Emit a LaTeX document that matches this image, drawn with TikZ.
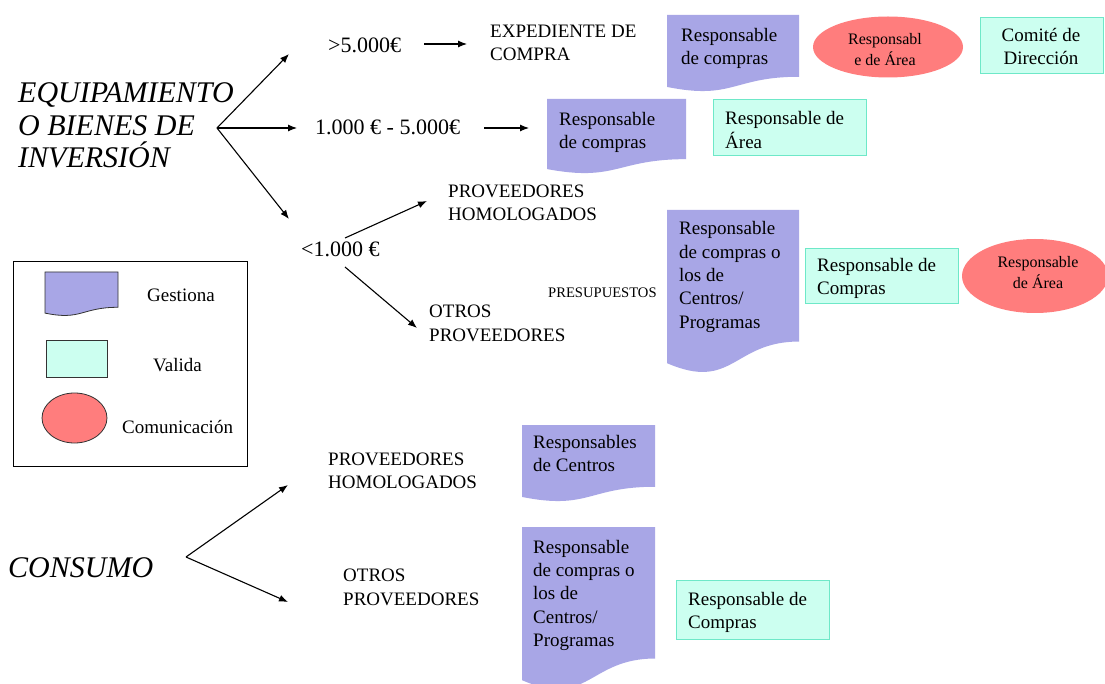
\documentclass[tikz,border=0pt]{standalone}
\usepackage{fontspec}
\setmainfont{Liberation Serif}
\usetikzlibrary{arrows.meta,shapes.geometric}
\definecolor{gpurple}{RGB}{168,166,230}
\definecolor{vfill}{RGB}{204,255,240}
\definecolor{vdraw}{RGB}{110,232,200}
\definecolor{cred}{RGB}{255,125,125}
\tikzset{
  arr/.style={line width=1.1pt,-{Latex[length=9pt,width=7pt]}},
  txt/.style={font=\fontsize{19}{23.3}\selectfont,inner sep=0pt,anchor=base west,align=left},
  txtc/.style={font=\fontsize{19}{23.3}\selectfont,inner sep=0pt,anchor=base,align=center},
  smalltxt/.style={font=\fontsize{16}{21}\selectfont,inner sep=0pt,anchor=base,align=center},
  big/.style={font=\fontsize{30}{32.5}\selectfont\itshape,inner sep=0pt,anchor=base west,align=left},
  amt/.style={font=\fontsize{22}{26}\selectfont,inner sep=0pt,anchor=base west},
  presup/.style={font=\fontsize{14.6}{17}\selectfont,inner sep=0pt,anchor=base west},
  valida/.style={fill=vfill,draw=vdraw,line width=1pt,inner sep=0pt,anchor=north west},
  comm/.style={ellipse,fill=cred,inner sep=0pt},
  docfill/.style={fill=gpurple},
}
% multi-line nodes: the base anchor is the baseline of the LAST line
\newcommand{\gestiona}[6][]{%
  \path[docfill,#1] (#3,#4) -- (#3+#5,#4) -- (#3+#5,#4+0.802*#6)
    .. controls (#3+0.5*#5,#4+0.802*#6) and (#3+0.5*#5,#4+1.108*#6) .. (#3,#4+0.934*#6) -- cycle;
  \node[inner sep=0pt,minimum width=#5,minimum height=#6,anchor=north west] (#2) at (#3,#4) {};
}
\begin{document}
\begin{tikzpicture}[x=1pt,y=-1pt]
\useasboundingbox[fill=white] (0,0) rectangle (1105,684);

% ---- EQUIPAMIENTO branch ----
\node[big] (equip) at (18,168) {EQUIPAMIENTO\\O BIENES DE\\INVERSIÓN};
\node[amt] (gt5) at (328,53) {>5.000€};
\node[amt] (mid) at (315,135) {1.000 € - 5.000€};
\node[amt] (lt1) at (301,257) {<1.000 €};
\node[txt] (exped) at (490,60.8) {EXPEDIENTE DE\\COMPRA};

\gestiona{d1}{667}{15}{132}{77}
\node[txt] (d1t) at (681,64.9) {Responsable\\de compras};
\node[comm,minimum width=150pt,minimum height=61pt] (e1) at (888,47) {};
\node[smalltxt] (e1t) at (885,66) {Responsabl\\e de Área};
\node[valida,minimum width=123pt,minimum height=56pt] (v1) at (980,17) {};
\node[txtc] (v1t) at (1041,65) {Comité de\\Dirección};

\gestiona{d2}{547}{99}{139}{75}
\node[txt] (d2t) at (559,148.8) {Responsable\\de compras};
\node[valida,minimum width=153pt,minimum height=56pt] (v2) at (713,99) {};
\node[txt] (v2t) at (725,148.3) {Responsable de\\Área};

\node[txt] (ph1) at (448,220.8) {PROVEEDORES\\HOMOLOGADOS};
\node[txt] (op1) at (429,341.3) {OTROS\\PROVEEDORES};
\node[presup] (pres) at (548,298) {PRESUPUESTOS};

\gestiona{d3}{667}{210}{132}{164}
\node[txt] (d3t) at (679,328.2) {Responsable\\de compras o\\los de\\Centros/\\Programas};
\node[valida,minimum width=153pt,minimum height=55pt] (v3) at (805,248) {};
\node[txt] (v3t) at (817,295) {Responsable de\\Compras};
\node[comm,minimum width=146pt,minimum height=74pt] (e2) at (1035,276) {};
\node[smalltxt] (e2t) at (1038,289) {Responsable\\de Área};

% ---- legend ----
\node[draw=black,line width=1pt,minimum width=234pt,minimum height=205pt,inner sep=0pt,anchor=north west] (legend) at (13,261) {};
\gestiona[draw=black!80,line width=0.8pt]{lgd}{45}{272}{73}{44}
\node[txt] (lgdt) at (147,301.5) {Gestiona};
\node[valida,draw=black!80,line width=0.8pt,minimum width=61pt,minimum height=37pt] (lgv) at (46,340) {};
\node[txt] (lgvt) at (153,371.5) {Valida};
\node[comm,draw=black!80,line width=0.8pt,minimum width=65pt,minimum height=50pt] (lge) at (74.5,418) {};
\node[txt] (lget) at (122,433) {Comunicación};

% ---- CONSUMO branch ----
\node[big] (consumo) at (8,577) {CONSUMO};
\node[txt] (ph2) at (328,488.3) {PROVEEDORES\\HOMOLOGADOS};
\node[txt] (op2) at (343,605) {OTROS\\PROVEEDORES};
\gestiona{d4}{522}{425}{133}{77}
\node[txt] (d4t) at (533,471.6) {Responsables\\de Centros};
\gestiona{d5}{522}{527}{133}{164}
\node[txt] (d5t) at (533,646.5) {Responsable\\de compras o\\los de\\Centros/\\Programas};
\node[valida,minimum width=153pt,minimum height=59pt] (v5) at (676,580) {};
\node[txt] (v5t) at (688,628.3) {Responsable de\\Compras};

% ---- connectors ----
\coordinate (eqA) at (217,128);
\coordinate (tA1) at (289,54);
\coordinate (tA2) at (297,128);
\coordinate (tA3) at (289,219);
\coordinate (s5) at (424,44);
\coordinate (t5) at (467,44);
\coordinate (s15) at (484,128);
\coordinate (t15) at (529,128);
\coordinate (s1a) at (345,238);
\coordinate (t1a) at (427,201);
\coordinate (s1b) at (345,267);
\coordinate (t1b) at (417,328);
\coordinate (consA) at (186,557);
\coordinate (tc1) at (288,485);
\coordinate (tc2) at (288,602);

\draw[arr] (eqA) -- (tA1);
\draw[arr] (eqA) -- (tA2);
\draw[arr] (eqA) -- (tA3);
\draw[arr] (s5) -- (t5);
\draw[arr] (s15) -- (t15);
\draw[arr] (s1a) -- (t1a);
\draw[arr] (s1b) -- (t1b);
\draw[arr] (consA) -- (tc1);
\draw[arr] (consA) -- (tc2);
\end{tikzpicture}
\end{document}
